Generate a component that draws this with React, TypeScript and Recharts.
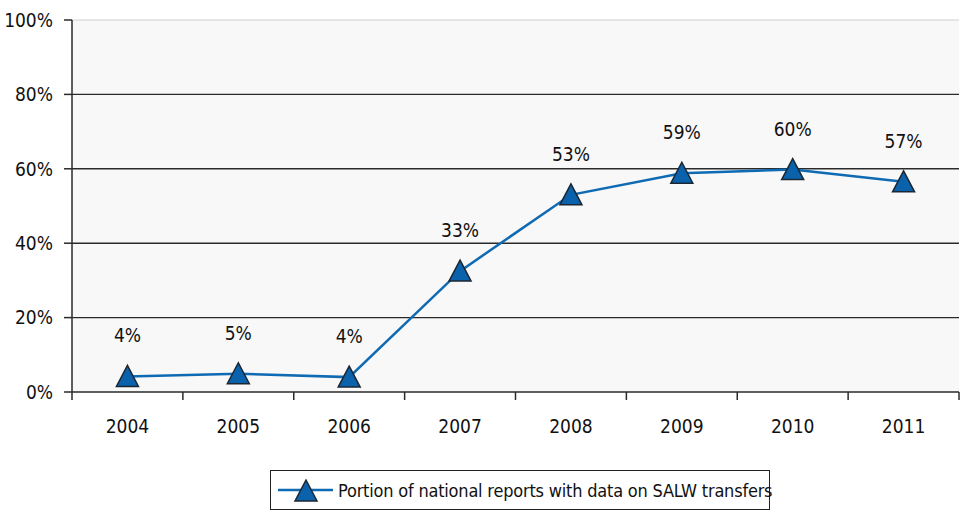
import { CartesianGrid, LabelList, Legend, Line, LineChart, ReferenceLine, XAxis, YAxis } from "recharts";

const years = ["2004", "2005", "2006", "2007", "2008", "2009", "2010", "2011"];
const portion = [4.2, 4.9, 4.0, 32.5, 53, 58.8, 59.8, 56.5];
const yTicks = [0, 20, 40, 60, 80, 100];

const SERIES_NAME = "Portion of national reports with data on SALW transfers";
const FONT = '"DejaVu Sans Condensed", "DejaVu Sans", sans-serif';
const LINE = "#0f6ab4";
const MARK = "#0b62ac";
const AXIS = "#2a2a2a";
const TICK_GAP = 28;
const textStyle = { fill: "#111", fontSize: 19, fontFamily: FONT, fontStretch: "condensed" };

const data = years.map((year, i) => ({ year, value: portion[i] }));

function Triangle(props: any) {
  const { cx, cy } = props;
  if (cx == null || cy == null) return null;
  return (
    <polygon
      points={`${cx},${cy - 11} ${cx + 11},${cy + 10} ${cx - 11},${cy + 10}`}
      fill={MARK}
      stroke="#1b2733"
      strokeWidth={1.5}
    />
  );
}

// year label plus the tick marks that sit between the categories
function YearTick(props: any) {
  const { x, y, payload, index } = props;
  const half = payload.offset ?? 0;
  const axisY = y - TICK_GAP;
  return (
    <g>
      <line x1={x - half} x2={x - half} y1={axisY} y2={axisY + 8} stroke={AXIS} strokeWidth={1.5} />
      {index === years.length - 1 && (
        <line x1={x + half} x2={x + half} y1={axisY} y2={axisY + 8} stroke={AXIS} strokeWidth={1.5} />
      )}
      <text x={x} y={y} dy="0.71em" textAnchor="middle" style={textStyle as any}>
        {payload.value}
      </text>
    </g>
  );
}

function LegendBox() {
  return (
    <div
      style={{
        width: 498,
        height: 38,
        border: "1.5px solid #222",
        display: "flex",
        alignItems: "center",
        fontFamily: FONT,
        fontStretch: "condensed",
        fontSize: 18,
        letterSpacing: -0.2,
        color: "#111",
        background: "#fff",
        whiteSpace: "nowrap",
      }}
    >
      <svg width={66} height={30} style={{ flexShrink: 0 }}>
        <line x1={7} y1={15} x2={62} y2={15} stroke={LINE} strokeWidth={2.5} />
        <Triangle cx={35} cy={16} />
      </svg>
      <span style={{ marginLeft: 1 }}>{SERIES_NAME}</span>
    </div>
  );
}

export default function App() {
  return (
    <div style={{ position: "absolute", left: 0, top: 0, width: 963, height: 510, background: "#fff" }}>
      <LineChart width={963} height={510} data={data} margin={{ top: 20, right: 4, bottom: 78, left: 0 }}>
        <CartesianGrid fill="#f8f8f8" horizontal={false} vertical={false} />
        {yTicks
          .filter((t) => t > 0)
          .map((t) => (
            <ReferenceLine
              key={t}
              y={t}
              stroke={t === 100 ? "#cfcfcf" : AXIS}
              strokeWidth={t === 100 ? 1 : 1.4}
            />
          ))}
        <XAxis
          dataKey="year"
          scale="band"
          height={40}
          tickLine={false}
          axisLine={{ stroke: AXIS, strokeWidth: 1.5 }}
          tickSize={0}
          tickMargin={TICK_GAP}
          tick={<YearTick />}
          interval={0}
        />
        <YAxis
          domain={[0, 100]}
          ticks={yTicks}
          width={72}
          tickFormatter={(v) => `${v}%`}
          axisLine={{ stroke: AXIS, strokeWidth: 1.5 }}
          tickLine={{ stroke: AXIS, strokeWidth: 1.5 }}
          tickSize={8}
          tickMargin={11}
          tick={textStyle}
        />
        <Legend
          layout="horizontal"
          align="center"
          verticalAlign="middle"
          wrapperStyle={{ left: 270, top: 470, width: 502 }}
          content={() => <LegendBox />}
        />
        <Line
          type="linear"
          dataKey="value"
          name={SERIES_NAME}
          stroke={LINE}
          strokeWidth={2.5}
          dot={<Triangle />}
          activeDot={false}
          isAnimationActive={false}
        >
          <LabelList
            dataKey="value"
            position="top"
            offset={34}
            formatter={(v: any) => `${Math.round(Number(v))}%`}
            style={textStyle}
          />
        </Line>
      </LineChart>
    </div>
  );
}
